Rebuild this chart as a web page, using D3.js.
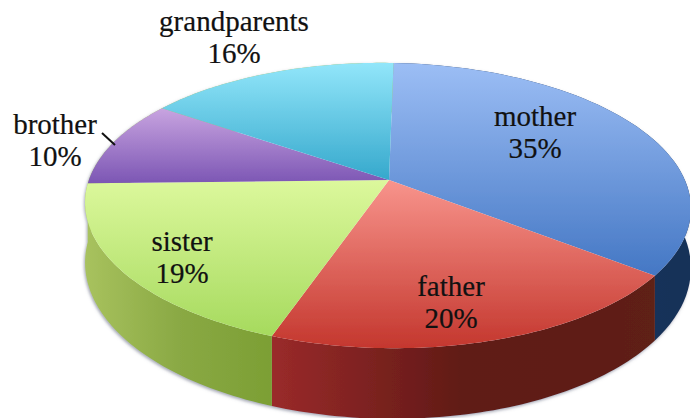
<!DOCTYPE html>
<html><head><meta charset="utf-8">
<script src="https://cdn.jsdelivr.net/npm/d3@7/dist/d3.min.js"></script>
<style>html,body{margin:0;padding:0;background:#fff}svg{display:block}</style>
</head><body><svg id="c" width="690" height="418"></svg>
<script>
const categories = ["mother","father","sister","brother","grandparents"];
const values = [35,20,19,10,16];
const labels = ["35%","20%","19%","10%","16%"];
const topLight = ["#9cbef5","#f8948c","#dcf89c","#c8a4e0","#92e6fa"];
const topDark  = ["#4477c4","#c4372e","#a6da5e","#7c56b4","#35a8cc"];
const sideA = ["#1c3c68","#9a2a2a","#a8c25e","#a8c25e","#a8c25e"];
const sideM = ["#1a3660","#601a16","#8aa944","#a8c25e","#a8c25e"];
const sideB = ["#183258","#5e2016","#7c9f34","#a8c25e","#a8c25e"];
const labelX = [535,451,182,55,234];
const labelY = [126,296,251,134,31];

const svg = d3.select("#c");
const defs = svg.append("defs");
const pie = d3.pie().sort(null).value(d=>d).startAngle(0).endAngle(2*Math.PI);
const arcs = pie(values);

const cx=389, cy=180, A=298, B=138, P=0.179, D=58, SX=-0.018, SY=0.04;
const proj=(a,depth)=>{
  const u=Math.sin(a), v=-Math.cos(a), w=1-P*v;
  return [cx+A*(u+SX*v)/w, cy+B*(v+SY*u)/w+(depth?D/w:0)];
};
const steps=(a0,a1)=>d3.range(0,61).map(i=>a0+(a1-a0)*i/60);
const line=d3.line().curve(d3.curveLinear);

defs.append("filter").attr("id","soft").attr("x","-5%").attr("y","-5%").attr("width","110%").attr("height","110%")
  .append("feGaussianBlur").attr("stdDeviation",0.7);
defs.append("filter").attr("id","shadow").attr("x","-5%").attr("y","-5%").attr("width","110%").attr("height","115%")
  .append("feDropShadow").attr("dx",-1).attr("dy",1.5).attr("stdDeviation",1.6).attr("flood-color","#5a5f78").attr("flood-opacity",0.55);

arcs.forEach((d,i)=>{
  const pts=[[cx,cy],...steps(d.startAngle,d.endAngle).map(a=>proj(a,false))];
  const ys=pts.map(p=>p[1]);
  const g=defs.append("linearGradient").attr("id","t"+i).attr("gradientUnits","userSpaceOnUse")
    .attr("x1",0).attr("x2",0).attr("y1",d3.min(ys)).attr("y2",d3.max(ys));
  g.append("stop").attr("offset",0).attr("stop-color",topLight[i]);
  g.append("stop").attr("offset",1).attr("stop-color",topDark[i]);
  const xs=pts.slice(1).map(p=>p[0]);
  const s=defs.append("linearGradient").attr("id","s"+i).attr("gradientUnits","userSpaceOnUse")
    .attr("y1",0).attr("y2",0).attr("x1",d3.min(xs)).attr("x2",d3.max(xs));
  s.append("stop").attr("offset",0).attr("stop-color",sideA[i]);
  s.append("stop").attr("offset",0.5).attr("stop-color",sideM[i]);
  s.append("stop").attr("offset",1).attr("stop-color",sideB[i]);
});

const sides=svg.append("g").attr("filter","url(#shadow)");
arcs.forEach((d,i)=>{
  const a=steps(d.startAngle,d.endAngle);
  const pts=[...a.map(x=>proj(x,false)),...a.slice().reverse().map(x=>proj(x,true))];
  sides.append("path").attr("d",line(pts)+"Z").attr("fill",`url(#s${i})`);
});
const tops=svg.append("g").attr("filter","url(#soft)");
arcs.forEach((d,i)=>{
  const pts=[[cx,cy],...steps(d.startAngle,d.endAngle).map(a=>proj(a,false))];
  tops.append("path").attr("d",line(pts)+"Z").attr("fill",`url(#t${i})`);
});

svg.append("line").attr("x1",102).attr("y1",133).attr("x2",115).attr("y2",145)
  .attr("stroke","#111").attr("stroke-width",2);

const txt=svg.append("g").attr("font-family","'Liberation Serif',serif").attr("font-size",29).attr("fill","#111").attr("stroke","#111").attr("stroke-width",0.2).attr("text-anchor","middle");
categories.forEach((c,i)=>{
  txt.append("text").attr("x",labelX[i]).attr("y",labelY[i]).text(c);
  txt.append("text").attr("x",labelX[i]).attr("y",labelY[i]+32).text(labels[i]);
});
</script></body></html>
